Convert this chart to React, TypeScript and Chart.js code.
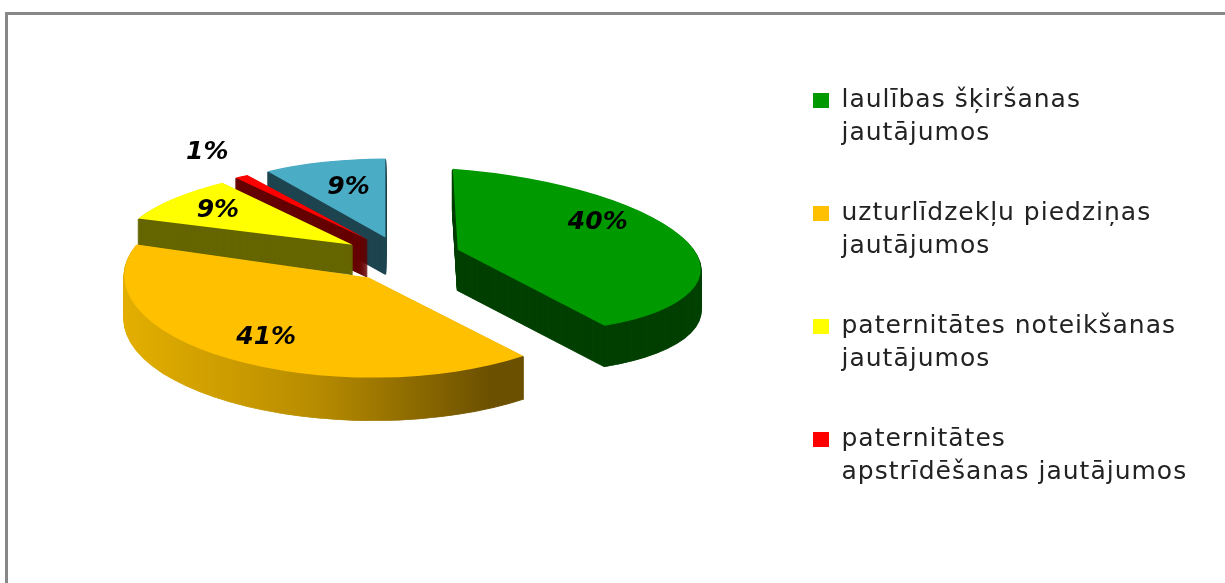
import React, { useEffect, useRef } from "react";
import { Chart, registerables } from "chart.js";

Chart.register(...registerables);

const categories: string[][] = [
  ["laulības šķiršanas", "jautājumos"],
  ["uzturlīdzekļu piedziņas", "jautājumos"],
  ["paternitātes noteikšanas", "jautājumos"],
  ["paternitātes", "apstrīdēšanas jautājumos"],
  [""],
];
const shareValues = [40, 41, 9, 1, 9];
const valueLabels = ["40%", "41%", "9%", "1%", "9%"];

const topColors = ["#009900", "#FFC000", "#FFFF00", "#FF0000", "#4BACC6"];
const wallColors = ["#004000", "#6B5000", "#666600", "#660000", "#1E4550"];
const explode = [55, 60, 67, 68, 72];
const sliceLift = [-4, 0, 0, 0, 3];
const radiusX = [243, 244, 234, 224, 220];
const radiusY = [81, 100, 79, 76, 79];
const shearX = [5, 14, -9, 0, 0];
const shearY = [18, -4, -3, 0, -1];
const wallDepth = [41, 43, 30, 38, 37];
const labelReach = [0.61, 0.74, 0.75, 1.27, 0.6];
const labelLift = [-22, 0, 0, -7, -5];
const paintOrder = [4, 3, 2, 0, 1];
const SQUASH = 0.37;

function sliceFrame(arc: any, i: number) {
  const half = (arc.startAngle + arc.endAngle) / 2;
  const lx = arc.x;
  const ly = arc.y;
  const rl = arc.outerRadius;
  const sx = radiusX[i] / rl;
  const sy = radiusY[i] / rl;
  const shx = shearX[i] / rl;
  const shy = shearY[i] / rl;
  const ax = lx + Math.cos(half) * explode[i];
  const ay = ly + Math.sin(half) * explode[i] * SQUASH + sliceLift[i];
  return {
    half, lx, ly, rl, sx, sy, shx, shy, ax, ay,
    e: ax - sx * lx - shx * ly,
    f: ay - shy * lx - sy * ly,
  };
}

const pie3d = {
  id: "pie3d",
  beforeDraw(chart: any) {
    chart.legend.top = 41;
    chart.legend.left = 766;
    (chart.ctx as any).letterSpacing = "1px";
  },
  beforeDatasetsDraw(chart: any) {
    const ctx: CanvasRenderingContext2D = chart.ctx;
    (ctx as any).letterSpacing = "0px";
    const arcs = chart.getDatasetMeta(0).data;
    for (const i of paintOrder) {
      const arc = arcs[i];
      const m = sliceFrame(arc, i);
      const own = arc.options;
      let wall: any = wallColors[i];
      if (i === 1) {
        const g = ctx.createLinearGradient(m.lx - m.rl, 0, m.lx + 0.45 * m.rl, 0);
        g.addColorStop(0, "#E2AE00");
        g.addColorStop(0.5, "#B88C00");
        g.addColorStop(1, "#6B5000");
        wall = g;
      }
      arc.options = { ...own, backgroundColor: wall, borderColor: wall, borderWidth: 1.5 };
      for (let d = wallDepth[i]; d >= 1; d--) {
        ctx.save();
        ctx.transform(m.sx, m.shy, m.shx, m.sy, m.e, m.f + d);
        arc.draw(ctx);
        ctx.restore();
      }
      arc.options = own;
      ctx.save();
      ctx.transform(m.sx, m.shy, m.shx, m.sy, m.e, m.f);
      arc.draw(ctx);
      ctx.restore();
    }
    ctx.save();
    ctx.font = "italic bold 25px 'DejaVu Sans'";
    ctx.fillStyle = "#000";
    ctx.textAlign = "center";
    ctx.textBaseline = "middle";
    arcs.forEach((arc: any, i: number) => {
      const m = sliceFrame(arc, i);
      const px = m.lx + Math.cos(m.half) * m.rl * labelReach[i];
      const py = m.ly + Math.sin(m.half) * m.rl * labelReach[i];
      ctx.fillText(valueLabels[i], m.sx * px + m.shx * py + m.e, m.shy * px + m.sy * py + m.f + labelLift[i]);
    });
    ctx.restore();
    return false;
  },
};

export default function App() {
  const ref = useRef<HTMLCanvasElement>(null);
  useEffect(() => {
    const chart = new Chart(ref.current!, {
      type: "pie",
      data: {
        labels: categories as any,
        datasets: [
          {
            data: shareValues,
            backgroundColor: topColors,
            borderWidth: 0,
          },
        ],
      },
      options: {
        responsive: false,
        animation: false,
        radius: 200,
        rotation: 0,
        layout: { padding: { right: 7, bottom: 63 } },
        plugins: {
          title: { display: false },
          tooltip: { enabled: false },
          legend: {
            position: "right",
            align: "start",
            labels: {
              boxWidth: 16,
              boxHeight: 15,
              padding: 47,
              color: "#222",
              font: { family: "'DejaVu Sans'", size: 25, lineHeight: 1.32 },
              filter: (item: any) => item.index < 4,
            },
          },
        },
      } as any,
      plugins: [pie3d],
    });
    return () => chart.destroy();
  }, []);
  return (
    <div style={{ position: "absolute", left: 0, top: 0, width: 1225, height: 583, overflow: "hidden", background: "#fff" }}>
      <div style={{ position: "absolute", left: 5, top: 12, right: -10, bottom: -10, borderTop: "3px solid #888", borderLeft: "3px solid #888" }} />
      <canvas ref={ref} width={1225} height={583} style={{ position: "absolute", left: 0, top: 0, display: "block" }} />
    </div>
  );
}
